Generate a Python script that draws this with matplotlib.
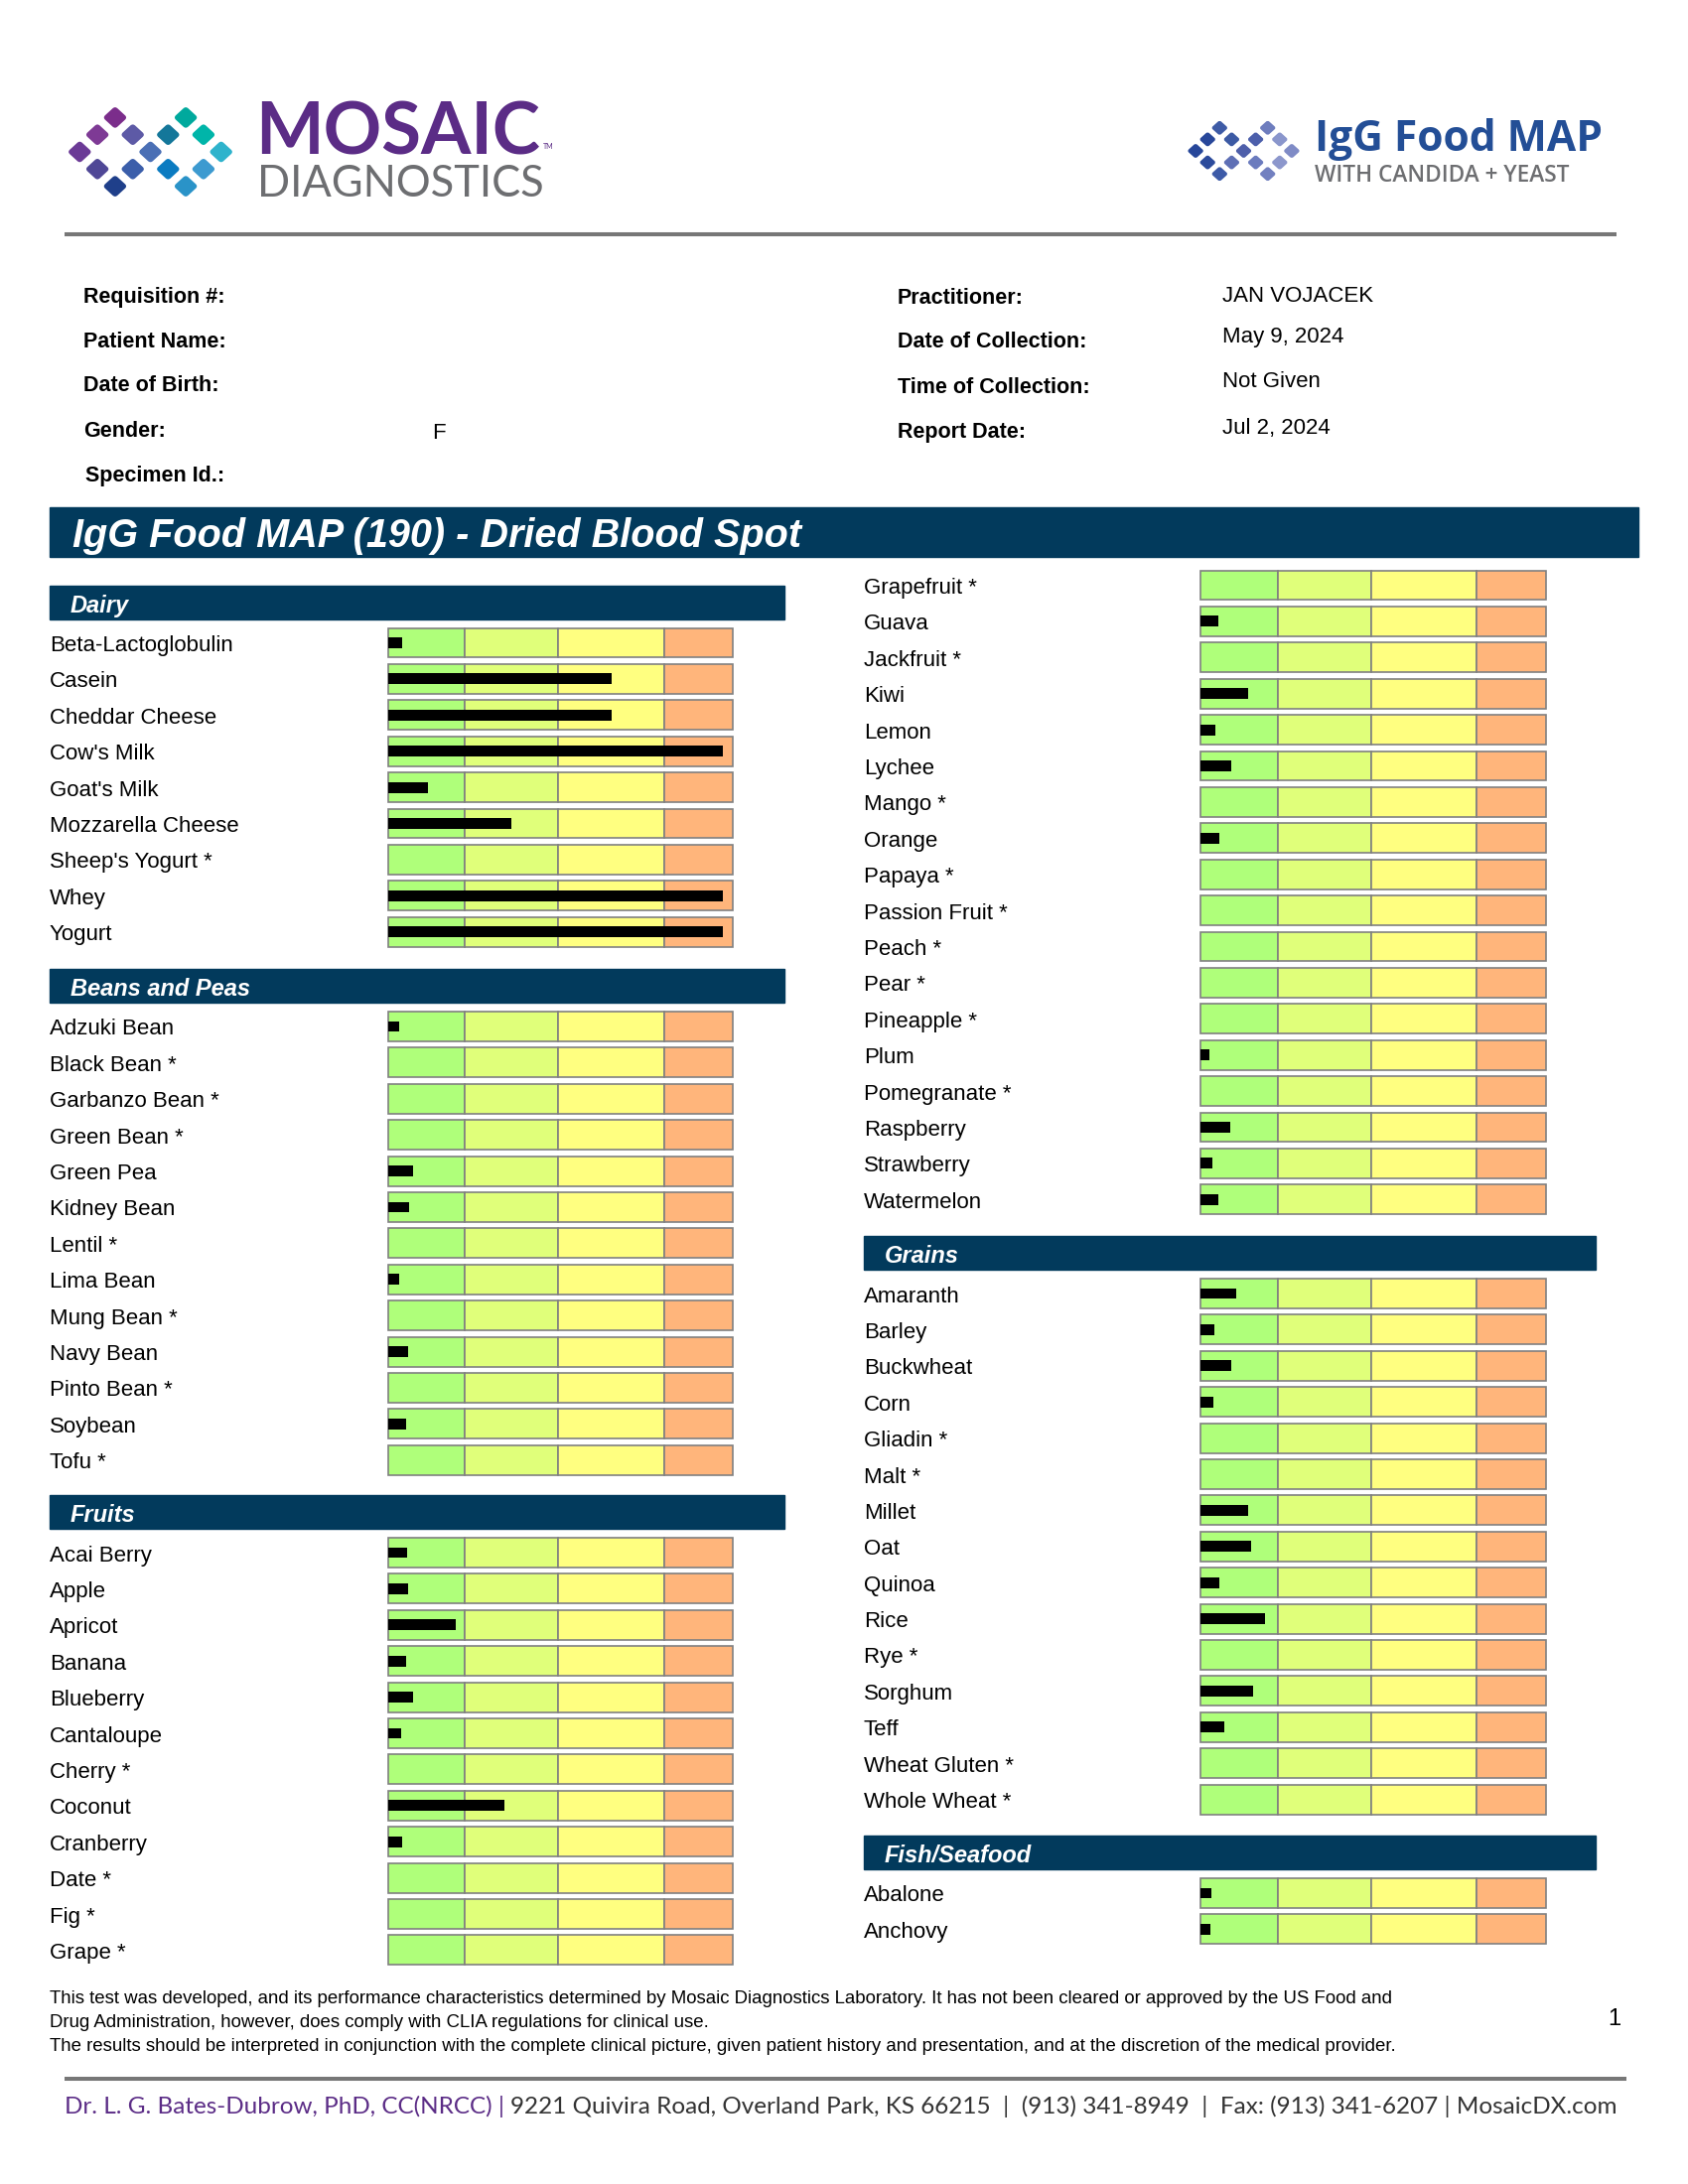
import numpy as np
import matplotlib
matplotlib.use("Agg")
import matplotlib.pyplot as plt
from matplotlib.patches import Rectangle, FancyBboxPatch
from matplotlib.transforms import Affine2D, blended_transform_factory

plt.rcParams["font.family"] = ["Liberation Sans", "DejaVu Sans"]

# ---- report data (bar length as % of the full scale) ----
dairy_foods = ["Beta-Lactoglobulin", "Casein", "Cheddar Cheese", "Cow's Milk", "Goat's Milk",
               "Mozzarella Cheese", "Sheep's Yogurt *", "Whey", "Yogurt"]
dairy_values = [3.9, 64.7, 64.7, 97.2, 11.4, 35.8, 0, 97.2, 97.2]

beans_foods = ["Adzuki Bean", "Black Bean *", "Garbanzo Bean *", "Green Bean *", "Green Pea",
               "Kidney Bean", "Lentil *", "Lima Bean", "Mung Bean *", "Navy Bean", "Pinto Bean *",
               "Soybean", "Tofu *"]
beans_values = [3.2, 0, 0, 0, 7.1, 6.1, 0, 3.3, 0, 5.9, 0, 5.3, 0]

fruits_foods_a = ["Acai Berry", "Apple", "Apricot", "Banana", "Blueberry", "Cantaloupe", "Cherry *",
                  "Coconut", "Cranberry", "Date *", "Fig *", "Grape *"]
fruits_values_a = [5.6, 5.8, 19.5, 5.1, 7.1, 3.7, 0, 33.8, 3.9, 0, 0, 0]

fruits_foods_b = ["Grapefruit *", "Guava", "Jackfruit *", "Kiwi", "Lemon", "Lychee", "Mango *",
                  "Orange", "Papaya *", "Passion Fruit *", "Peach *", "Pear *", "Pineapple *",
                  "Plum", "Pomegranate *", "Raspberry", "Strawberry", "Watermelon"]
fruits_values_b = [0, 5.2, 0, 13.7, 4.3, 9.0, 0, 5.6, 0, 0, 0, 0, 0, 2.6, 0, 8.7, 3.5, 5.2]

grains_foods = ["Amaranth", "Barley", "Buckwheat", "Corn", "Gliadin *", "Malt *", "Millet", "Oat",
                "Quinoa", "Rice", "Rye *", "Sorghum", "Teff", "Wheat Gluten *", "Whole Wheat *"]
grains_values = [10.3, 4.1, 8.8, 3.8, 0, 0, 13.7, 14.6, 5.6, 18.7, 0, 15.2, 7.0, 0, 0]

fish_foods = ["Abalone", "Anchovy"]
fish_values = [3.2, 2.8]

zone_edges = [0, 22.3, 49.3, 80.0, 100]
zone_colors = ["#afff7a", "#e0ff7a", "#ffff80", "#ffb57b"]

info_left = ["Requisition #:", "Patient Name:", "Date of Birth:", "Gender:", "Specimen Id.:"]
info_right = ["Practitioner:", "Date of Collection:", "Time of Collection:", "Report Date:"]
info_right_values = ["JAN VOJACEK", "May 9, 2024", "Not Given", "Jul 2, 2024"]
gender_value = "F"

disclaimer = [
    "This test was developed, and its performance characteristics determined by Mosaic Diagnostics "
    "Laboratory. It has not been cleared or approved by the US Food and",
    "Drug Administration, however, does comply with CLIA regulations for clinical use.",
    "The results should be interpreted in conjunction with the complete clinical picture, given "
    "patient history and presentation, and at the discretion of the medical provider.",
]

# ---- page ----
W, H = 1700, 2200
NAVY = "#023a5c"
PITCH = 36.4
DY = 3  # visual nudge for vertically centred text

fig = plt.figure(figsize=(W / 100, H / 100), dpi=100)
page = fig.add_axes([0, 0, 1, 1])
page.set_xlim(0, W)
page.set_ylim(H, 0)
page.axis("off")
renderer = fig.canvas.get_renderer()


def fit_text(x0, x1, y, s, **kw):
    t = page.text(x0, y, s, **kw)
    bb = t.get_window_extent(renderer)
    t.set_fontsize(t.get_fontsize() * (x1 - x0) / bb.width)
    return t


def diamonds(cx, cy, sx, sy, dx, dy, colors):
    # two linked diamond rings, as in the logos
    cells = [(2, 0), (6, 0), (1, 1), (3, 1), (5, 1), (7, 1), (0, 2), (4, 2), (8, 2),
             (1, 3), (3, 3), (5, 3), (7, 3), (2, 4), (6, 4)]
    for (c, r), col in zip(cells, colors):
        p = FancyBboxPatch((-0.5, -0.5), 1, 1, boxstyle="round,pad=0,rounding_size=0.2",
                           facecolor=col, edgecolor="none")
        p.set_transform(Affine2D().rotate_deg(45).scale(dx, dy)
                        .translate(cx + (c - 4) * sx, cy + (r - 2) * sy) + page.transData)
        page.add_patch(p)


# logos
mosaic_colors = ["#7b2d8b", "#00a99d", "#7e3a95", "#5d5aa6", "#14779a", "#00b5a9", "#6b3a96",
                 "#4a6fb5", "#2eb3cc", "#4f4796", "#3b5eaa", "#0a7bc1", "#3c9ad0", "#1f3f8a",
                 "#2a93c8"]
diamonds(151.5, 153, 17.8, 17.3, 17.6, 16.2, mosaic_colors)
fit_text(257, 544, 155, "MOSAIC", fontsize=50, family="Lato", fontweight="bold", color="#5b2c86")
page.text(547, 150, "TM", fontsize=5, family="Lato", color="#5b2c86")
fit_text(259, 547, 198, "DIAGNOSTICS", fontsize=30, family="Lato", color="#6d6e71")

food_map_colors = ["#3e5ba6", "#6e7dbe", "#28479a", "#3c5aa4", "#4c5fab", "#8a96cc", "#27479a",
                   "#4e5faa", "#7f8bc6", "#2c4b9c", "#5e6fb5", "#6b7bbe", "#8c97cc", "#3d5aa7",
                   "#7280c0"]
diamonds(1252.5, 152, 12.1, 11.6, 12.2, 11.0, food_map_colors)
fit_text(1324, 1614, 152, "IgG Food MAP", fontsize=30, family="Open Sans", fontweight="bold",
         color="#234e96")
fit_text(1324, 1582, 183, "WITH CANDIDA + YEAST", fontsize=15, family="Open Sans",
         fontweight="semibold", color="#6d6e71")

page.plot([65, 1628], [236, 236], color="#777777", lw=2.9, solid_capstyle="butt")

# patient info
for y, lab in zip([297, 341, 386, 431, 477], info_left):
    page.text(84 if lab != "Specimen Id.:" else 86, y + DY, lab, fontsize=15.5, fontweight="bold",
              va="center")
page.text(435, 434 + DY, gender_value, fontsize=16, va="center")
for y, lab, val, dv in zip([297, 341, 388, 432], info_right, info_right_values, [-1, -4, -7, -3]):
    page.text(904, y + DY, lab, fontsize=15.5, fontweight="bold", va="center")
    page.text(1231, y + dv + DY, val, fontsize=16, va="center")

# title band
page.add_patch(Rectangle((50, 511), 1600, 50, color=NAVY))
page.text(73, 537 + DY, "IgG Food MAP (190) - Dried Blood Spot", fontsize=28.5, fontweight="bold",
          style="italic", color="white", va="center")

COLS = {
    "left": dict(label_x=50, bar=(391, 738), head=(50, 790)),
    "right": dict(label_x=870, bar=(1209, 1557), head=(870, 1607)),
}


def section(col, first_y, foods, values, title=None):
    c = COLS[col]
    if title:
        top = first_y - 58
        page.add_patch(Rectangle((c["head"][0], top), c["head"][1] - c["head"][0], 34, color=NAVY))
        page.text(c["head"][0] + 21, top + 17.5 + DY, title, color="white", fontsize=17,
                  fontweight="bold", style="italic", va="center")
    n = len(foods)
    x0, x1 = c["bar"]
    top = first_y - PITCH / 2
    ax = fig.add_axes([x0 / W, 1 - (top + n * PITCH) / H, (x1 - x0) / W, n * PITCH / H])
    ax.set_xlim(0, 100)
    ax.set_ylim(n - 0.5, -0.5)
    ax.axis("off")
    y = np.arange(n)
    for lo, hi, colr in zip(zone_edges[:-1], zone_edges[1:], zone_colors):
        ax.barh(y, hi - lo, left=lo, height=0.82, color=colr, edgecolor="#808080",
                linewidth=1.2, clip_on=False)
    ax.barh(y, values, height=0.3, color="black", clip_on=False)
    tr = blended_transform_factory(page.transData, ax.transData)
    for i, f in enumerate(foods):
        ax.text(c["label_x"], i + DY / PITCH, f, transform=tr, fontsize=16, va="center",
                clip_on=False)


section("left", 647.5, dairy_foods, dairy_values, "Dairy")
section("left", 1034, beans_foods, beans_values, "Beans and Peas")
section("left", 1564, fruits_foods_a, fruits_values_a, "Fruits")
section("right", 589.5, fruits_foods_b, fruits_values_b)
section("right", 1303, grains_foods, grains_values, "Grains")
section("right", 1907, fish_foods, fish_values, "Fish/Seafood")

# footer
for y, line in zip([2010, 2035, 2059], disclaimer):
    page.text(50, y + DY, line, fontsize=13.45, va="center")
page.text(1626, 2031 + DY, "1", fontsize=17, ha="center", va="center")
page.plot([65, 1638], [2094, 2094], color="#777777", lw=2.9, solid_capstyle="butt")

purple = "Dr. L. G. Bates-Dubrow, PhD, CC(NRCC) | "
rest = "9221 Quivira Road, Overland Park, KS 66215  |  (913) 341-8949  |  Fax: (913) 341-6207 | MosaicDX.com"
t1 = page.text(65, 2119 + DY, purple, fontsize=16, family="Lato", color="#5b2c86", va="center")
t2 = page.text(65, 2119 + DY, rest, fontsize=16, family="Lato", color="#333333", va="center")
w = t1.get_window_extent(renderer).width + t2.get_window_extent(renderer).width
scale = (1635 - 65) / w
t1.set_fontsize(16 * scale)
t2.set_fontsize(16 * scale)
t2.set_x(65 + t1.get_window_extent(renderer).width)

fig.savefig("out.png", dpi=100)
